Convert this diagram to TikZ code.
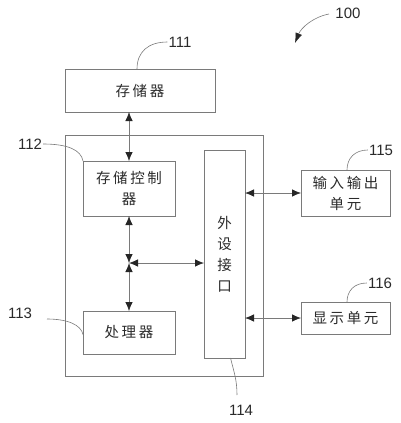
\documentclass[tikz,border=0pt]{standalone}
\usepackage{fontspec}
\setmainfont{Liberation Sans}
\newfontfamily\cjk[LetterSpace=18]{Noto Sans CJK SC}
\usetikzlibrary{arrows.meta}
\definecolor{lc}{HTML}{7A7A7A}
\definecolor{tc}{HTML}{2A2A2A}
\tikzset{
  box/.style={draw=lc, line width=0.8pt, inner sep=0pt, outer sep=0pt, align=center,
    font=\cjk\fontsize{14.5}{21}\selectfont, text=tc},
  tipk/.tip={Latex[length=9pt,width=7.5pt,color=black!85]},
  conn/.style={draw=lc, line width=0.8pt, tipk-tipk},
  lead/.style={draw=lc, line width=0.6pt},
  num/.style={font=\fontsize{15}{18}\selectfont, text=tc, inner sep=1pt}
}
\begin{document}
\begin{tikzpicture}[x=1pt,y=-1pt]
\useasboundingbox (0,0) rectangle (401,423);
% boxes
\node[box, minimum width=198pt, minimum height=241pt] (outer) at (164,255.5) {};
\node[box, minimum width=150pt, minimum height=43pt] (mem) at (140,90.5) {存储器};
\node[box, minimum width=92pt, minimum height=55pt] (ctrl) at (129,188.5) {存储控制\\器};
\node[box, minimum width=41pt, minimum height=208pt] (iface) at (224.5,254) {外\\设\\接\\口};
\node[box, minimum width=89pt, minimum height=46pt] (io) at (345.5,193) {输入输出\\单元};
\node[box, minimum width=89pt, minimum height=32pt] (disp) at (345.5,318) {显示单元};
\node[box, minimum width=92pt, minimum height=43pt] (proc) at (129,332.5) {处理器};
% connectors
\coordinate (j) at (129,263);
\draw[conn] (ctrl.north |- mem.south) -- (ctrl.north);
\draw[conn] (ctrl.south) -- (j);
\draw[conn] (proc.north) -- (j);
\draw[conn] (j) -- (j -| iface.west);
\draw[conn] (iface.east |- io.west) -- (io.west);
\draw[conn] (iface.east |- disp.west) -- (disp.west);
% labels
\node[num] (l100) at (348,13) {100};
\node[num] (l111) at (180,42) {111};
\node[num] (l112) at (30,144) {112};
\node[num] (l113) at (20,313) {113};
\node[num] (l114) at (241,410) {114};
\node[num] (l115) at (381,150) {115};
\node[num] (l116) at (380,283) {116};
\coordinate (c100) at (329,14);
\coordinate (t100) at (295,43);
\draw[lead, -{Latex[length=10pt,width=7pt,color=black!85]}] (c100) .. controls (313,17) and (301,28) .. (t100);
\draw[lead] (l111.west) .. controls (148,42) and (137,52) .. ([xshift=-3pt]mem.north);
\draw[lead] (l112.east) .. controls (68,144) and (81,150) .. (ctrl.north west);
\coordinate (c113) at (47,319);
\draw[lead] (c113) .. controls (68,319) and (81,325) .. ([yshift=-2pt]proc.west);
\coordinate (c114) at (237,395);
\draw[lead] ([xshift=6pt]iface.south) .. controls (234,372) and (237,380) .. (c114);
\draw[lead] (l115.west) .. controls (355,150) and (347,158) .. ([xshift=1.5pt]io.north);
\draw[lead] (l116.west) .. controls (354,283) and (347,291) .. ([xshift=1.5pt]disp.north);
\end{tikzpicture}
\end{document}
